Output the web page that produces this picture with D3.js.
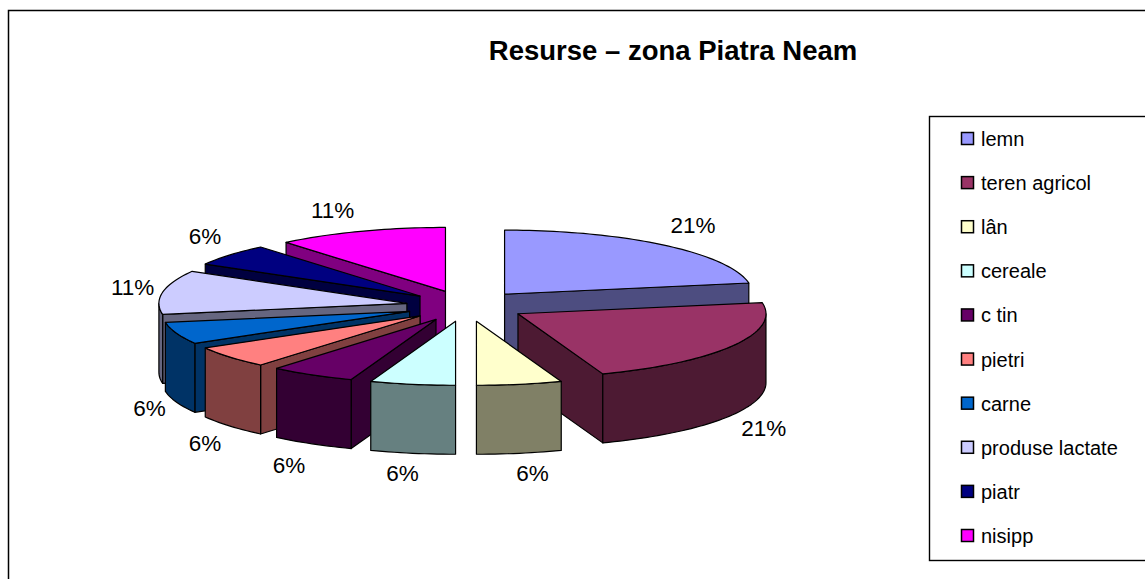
<!DOCTYPE html>
<html lang="ro">
<head>
    <meta charset="utf-8">
    <title>Resurse</title>
    <script src="https://d3js.org/d3.v7.min.js"></script>
    <style>
        html, body { margin: 0; background: #fff; }
        svg { display: block; }
        text { font-family: "Liberation Sans", Arial, sans-serif; fill: #000; }
        .title { font-size: 27.5px; font-weight: bold; }
        .pct { font-size: 22.5px; text-anchor: middle; }
        .legend-label { font-size: 20px; }
    </style>
</head>
<body>
<div id="chart"></div>
<script>
    const categories = ["lemn", "teren agricol", "lân", "cereale", "c  tin", "pietri", "carne", "produse lactate", "piatr", "nisipp"];
    // slice sizes as drawn (the picture splits the circle in 18 parts)
    const parts = [4, 4, 1, 1, 1, 1, 1, 2, 1, 2];
    const percentLabels = ["21%", "21%", "6%", "6%", "6%", "6%", "6%", "11%", "6%", "11%"];
    const colors = ["#9999ff", "#993366", "#ffffcc", "#ccffff", "#660066", "#ff8080", "#0066cc", "#ccccff", "#000080", "#ff00ff"];

    const w = 1145, h = 579;
    const cx = 466, cy = 306;
    const rx = 248, ry = 64, depth = 69;
    const explode = 0.242;

    const svg = d3.select("#chart").append("svg").attr("width", w).attr("height", h);

    // outer frame
    svg.append("rect").attr("x", 8.5).attr("y", 10.5).attr("width", w).attr("height", h)
        .attr("fill", "none").attr("stroke", "#000").attr("stroke-width", 1.5);

    svg.append("text").attr("class", "title").attr("x", 673).attr("y", 60)
        .attr("text-anchor", "middle").text("Resurse – zona Piatra Neam");

    const x = d3.scaleLinear().domain([-1, 1]).range([-rx, rx]);
    const y = d3.scaleLinear().domain([-1, 1]).range([ry, -ry]);
    const px = a => x(Math.sin(a));
    const py = a => y(Math.cos(a));
    const mid = d => (d.startAngle + d.endAngle) / 2;

    const slices = d3.pie().sort(null).value(d => d)(parts);
    const line = d3.line();

    function arcPoints(a0, a1, dy) {
        const n = Math.max(2, Math.ceil((a1 - a0) * 40));
        return d3.range(n + 1).map(i => {
            const a = a0 + (a1 - a0) * i / n;
            return [px(a), py(a) + dy];
        });
    }

    function radialWall(a) {
        return line([[0, 0], [px(a), py(a)], [px(a), py(a) + depth], [0, depth]]) + "Z";
    }

    // back slices first so the front ones cover them
    const order = slices.slice().sort((p, q) => Math.cos(mid(q)) - Math.cos(mid(p)));

    const groups = svg.selectAll("g.slice").data(order).join("g").attr("class", "slice")
        .attr("transform", d => "translate(" + (cx + explode * px(mid(d))) + "," + (cy + explode * py(mid(d))) + ")")
        .attr("stroke", "#000").attr("stroke-width", 1.2).attr("stroke-linejoin", "round");

    groups.each(function (d) {
        const g = d3.select(this);
        const c = d3.rgb(colors[d.index]);
        const side = d3.rgb(c.r / 2, c.g / 2, c.b / 2).formatHex();

        // a radial side shows only when it faces the viewer
        if (-Math.cos(d.startAngle - Math.PI / 2) > 0.01) {
            g.append("path").attr("d", radialWall(d.startAngle)).attr("fill", side);
        }
        if (-Math.cos(d.endAngle + Math.PI / 2) > 0.01) {
            g.append("path").attr("d", radialWall(d.endAngle)).attr("fill", side);
        }

        // outer rim, only the front half of the circle
        const a0 = Math.max(d.startAngle, Math.PI / 2);
        const a1 = Math.min(d.endAngle, Math.PI * 3 / 2);
        if (a1 > a0) {
            const pts = arcPoints(a0, a1, 0).concat(arcPoints(a0, a1, depth).reverse());
            g.append("path").attr("d", line(pts) + "Z").attr("fill", side);
        }

        g.append("path")
            .attr("d", line([[0, 0]].concat(arcPoints(d.startAngle, d.endAngle, 0))) + "Z")
            .attr("fill", colors[d.index]);
    });

    // percent labels, placed from the rim of each slice
    const labelNudge = [[29, -20], [31, 13], [13, 20], [-10, 20], [-23, 21], [-25, 17], [-27, 6], [-30, -5], [-25, -19], [-28, -21]];
    svg.selectAll("text.pct").data(slices).join("text").attr("class", "pct")
        .attr("x", d => cx + (1 + explode) * px(mid(d)) + labelNudge[d.index][0])
        .attr("y", d => {
            const south = Math.cos(mid(d)) < 0 ? depth : 0;
            return cy + (1 + explode) * py(mid(d)) + south + labelNudge[d.index][1];
        })
        .attr("dy", "0.35em")
        .text(d => percentLabels[d.index]);

    // legend
    svg.append("rect").attr("x", 929.5).attr("y", 116.5).attr("width", w).attr("height", 444)
        .attr("fill", "#fff").attr("stroke", "#000").attr("stroke-width", 1.4);

    const rowY = d3.scalePoint().domain(categories).range([139, 536]);
    const rows = svg.selectAll("g.row").data(categories).join("g").attr("class", "row")
        .attr("transform", d => "translate(961," + rowY(d) + ")");
    rows.append("rect").attr("x", 0.5).attr("y", -6.5).attr("width", 12).attr("height", 12)
        .attr("fill", (d, i) => colors[i]).attr("stroke", "#000").attr("stroke-width", 1.5);
    rows.append("text").attr("class", "legend-label").attr("x", 20).attr("dy", "0.35em").text(d => d);
</script>
</body>
</html>
